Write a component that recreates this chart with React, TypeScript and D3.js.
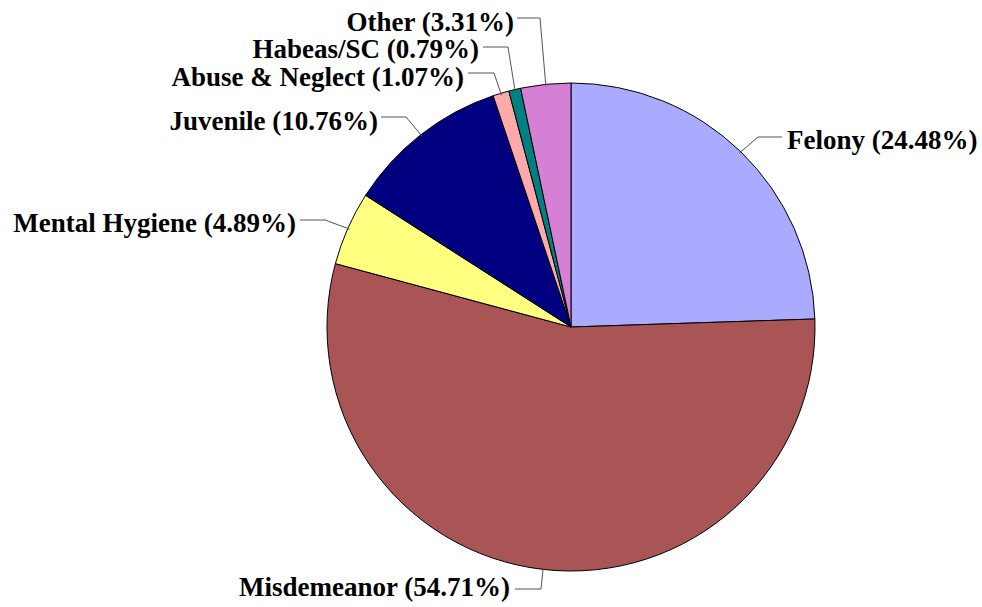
import React from 'react';
import * as d3 from 'd3';

// slice data, clockwise from 12 o'clock
const categories = ['Felony', 'Misdemeanor', 'Mental Hygiene', 'Juvenile', 'Abuse & Neglect', 'Habeas/SC', 'Other'];
const percents = [24.48, 54.71, 4.89, 10.76, 1.07, 0.79, 3.31];
const colors = ['#AAAAFF', '#AA5555', '#FFFF80', '#000080', '#FFAAAA', '#008080', '#D580D5'];

// label layout: text position, anchor, and the leader elbow
const labelLayout = [
  { tx: 787, ty: 149, anchor: 'start', lineY: 137, lineX: 782, elbowX: 758 },
  { tx: 510, ty: 596, anchor: 'end', lineY: 589, lineX: 515, elbowX: 541 },
  { tx: 296, ty: 232, anchor: 'end', lineY: 220, lineX: 300, elbowX: 325 },
  { tx: 378, ty: 130, anchor: 'end', lineY: 117, lineX: 381, elbowX: 406 },
  { tx: 464, ty: 86, anchor: 'end', lineY: 73, lineX: 468, elbowX: 494 },
  { tx: 479, ty: 58, anchor: 'end', lineY: 47, lineX: 483, elbowX: 508 },
  { tx: 514, ty: 31, anchor: 'end', lineY: 18, lineX: 517, elbowX: 540 },
];

const W = 982;
const H = 607;
const cx = 571;
const cy = 327;
const r = 244;
const labelFont = 'Liberation Serif, Times New Roman, Times, DejaVu Serif, serif';

export default function App() {
  const pie = d3.pie<number>().sort(null).value((d) => d);
  const arcs = pie(percents);
  const arc = d3.arc<d3.PieArcDatum<number>>().innerRadius(0).outerRadius(r);

  return (
    <svg
      width={W}
      height={H}
      style={{ position: 'fixed', left: 0, top: 0, background: '#fff' }}
    >
      <g transform={`translate(${cx},${cy})`}>
        {arcs.map((a, i) => (
          <path key={i} d={arc(a) || ''} fill={colors[i]} stroke="#000" strokeWidth={1} />
        ))}
      </g>
      {arcs.map((a, i) => {
        const L = labelLayout[i];
        const mid = (a.startAngle + a.endAngle) / 2;
        const px = cx + (r - 2) * Math.sin(mid);
        const py = cy - (r - 2) * Math.cos(mid);
        const pts: [number, number][] = [
          [L.lineX, L.lineY],
          [L.elbowX, L.lineY],
          [px, py],
        ];
        return (
          <g key={i}>
            <path d={d3.line()(pts) || ''} fill="none" stroke="#555" strokeWidth={1} />
            <text
              x={L.tx}
              y={L.ty}
              textAnchor={L.anchor}
              style={{ fontFamily: labelFont, fontSize: 27, fontWeight: 'bold' }}
              fill="#000"
            >
              {`${categories[i]} (${percents[i].toFixed(2)}%)`}
            </text>
          </g>
        );
      })}
    </svg>
  );
}
